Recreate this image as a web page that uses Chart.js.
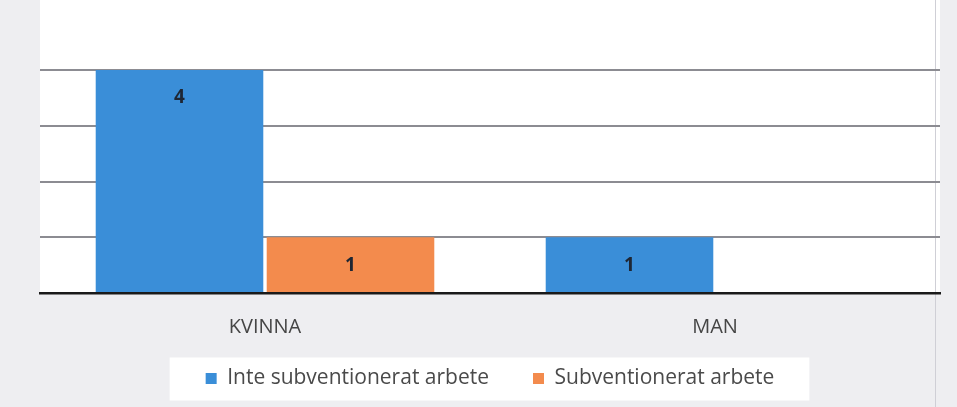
<!DOCTYPE html>
<html>
<head>
<meta charset="utf-8">
<script src="https://cdn.jsdelivr.net/npm/chart.js@4.4.0/dist/chart.umd.min.js"></script>
<style>
    html, body { margin: 0; padding: 0; background: #eeeef1; }
    #wrap { width: 957px; height: 407px; }
</style>
</head>
<body>
<div id="wrap"><canvas id="chart" width="957" height="407"></canvas></div>
<script>
const categories = ['KVINNA', 'MAN'];
const seriesNames = ['Inte subventionerat arbete', 'Subventionerat arbete'];
const inteSubventionerat = [4, 1];
const subventionerat = [1, 0];
const yTicks = [0, 1, 2, 3, 4];

const blue = '#3a8ed8';
const orange = '#f38b4d';

// paper background + white plot area
const backgroundPlugin = {
    id: 'paper',
    beforeDraw(chart) {
        const { ctx, chartArea, width, height } = chart;
        ctx.save();
        ctx.fillStyle = '#eeeef1';
        ctx.fillRect(0, 0, width, height);
        ctx.fillStyle = '#ffffff';
        ctx.fillRect(chartArea.left, 0, chartArea.right - chartArea.left, chartArea.bottom);
        ctx.strokeStyle = '#cfcfd6';
        ctx.lineWidth = 1;
        ctx.beginPath();
        ctx.moveTo(935.5, 0);
        ctx.lineTo(935.5, height);
        ctx.stroke();

        // white box behind the legend
        const legend = chart.legend;
        if (legend && legend.legendHitBoxes && legend.legendHitBoxes.length) {
            const boxes = legend.legendHitBoxes;
            const first = boxes[0];
            const last = boxes[boxes.length - 1];
            const cy = first.top + first.height / 2;
            const x0 = first.left - 36;
            const x1 = last.left + last.width + 35;
            ctx.fillStyle = '#ffffff';
            ctx.fillRect(x0, cy - 21, x1 - x0, 43);
        }
        ctx.restore();
    }
};

// value labels inside the top of each bar
const valueLabels = {
    id: 'valueLabels',
    afterDatasetsDraw(chart) {
        const { ctx } = chart;
        ctx.save();
        ctx.font = 'bold 19px "Open Sans", sans-serif';
        ctx.fillStyle = '#1e2633';
        ctx.textAlign = 'center';
        ctx.textBaseline = 'middle';
        chart.data.datasets.forEach((ds, i) => {
            const meta = chart.getDatasetMeta(i);
            meta.data.forEach((bar, j) => {
                const v = ds.data[j];
                if (!v) return;
                ctx.fillText(String(v), bar.x, bar.y + 28);
            });
        });
        ctx.restore();
    }
};

const ctx = document.getElementById('chart').getContext('2d');
new Chart(ctx, {
    type: 'bar',
    data: {
        labels: categories,
        datasets: [{
            label: seriesNames[0],
            data: inteSubventionerat,
            backgroundColor: blue,
            borderWidth: 0
        }, {
            label: seriesNames[1],
            data: subventionerat,
            backgroundColor: orange,
            borderWidth: 0
        }]
    },
    options: {
        responsive: false,
        animation: false,
        categoryPercentage: 0.76,
        barPercentage: 0.98,
        layout: {
            padding: { left: 40, right: 17, top: 70, bottom: 8 }
        },
        plugins: {
            tooltip: { enabled: false },
            legend: {
                position: 'bottom',
                labels: {
                    boxWidth: 11,
                    boxHeight: 11,
                    padding: 44,
                    color: '#4a4a4a',
                    font: { family: '"Open Sans", sans-serif', size: 21 }
                }
            }
        },
        scales: {
            x: {
                grid: { display: false },
                border: { display: true, color: '#1a1a1a', width: 2.5 },
                ticks: {
                    color: '#454545',
                    // mirrored with a negative padding so the labels sit below the axis without clipping
                    mirror: true,
                    padding: -46,
                    font: { family: '"Open Sans", sans-serif', size: 20 }
                },
                afterFit(scale) {
                    scale.height = 31;
                }
            },
            y: {
                min: 0,
                max: 4,
                afterBuildTicks(scale) {
                    scale.ticks = yTicks.map(v => ({ value: v }));
                },
                ticks: { display: false },
                border: { display: false },
                grid: {
                    drawTicks: false,
                    color: (c) => c.tick && c.tick.value === 0 ? '#1a1a1a' : '#8c8c92',
                    lineWidth: 2
                }
            }
        }
    },
    plugins: [backgroundPlugin, valueLabels]
});
</script>
</body>
</html>
